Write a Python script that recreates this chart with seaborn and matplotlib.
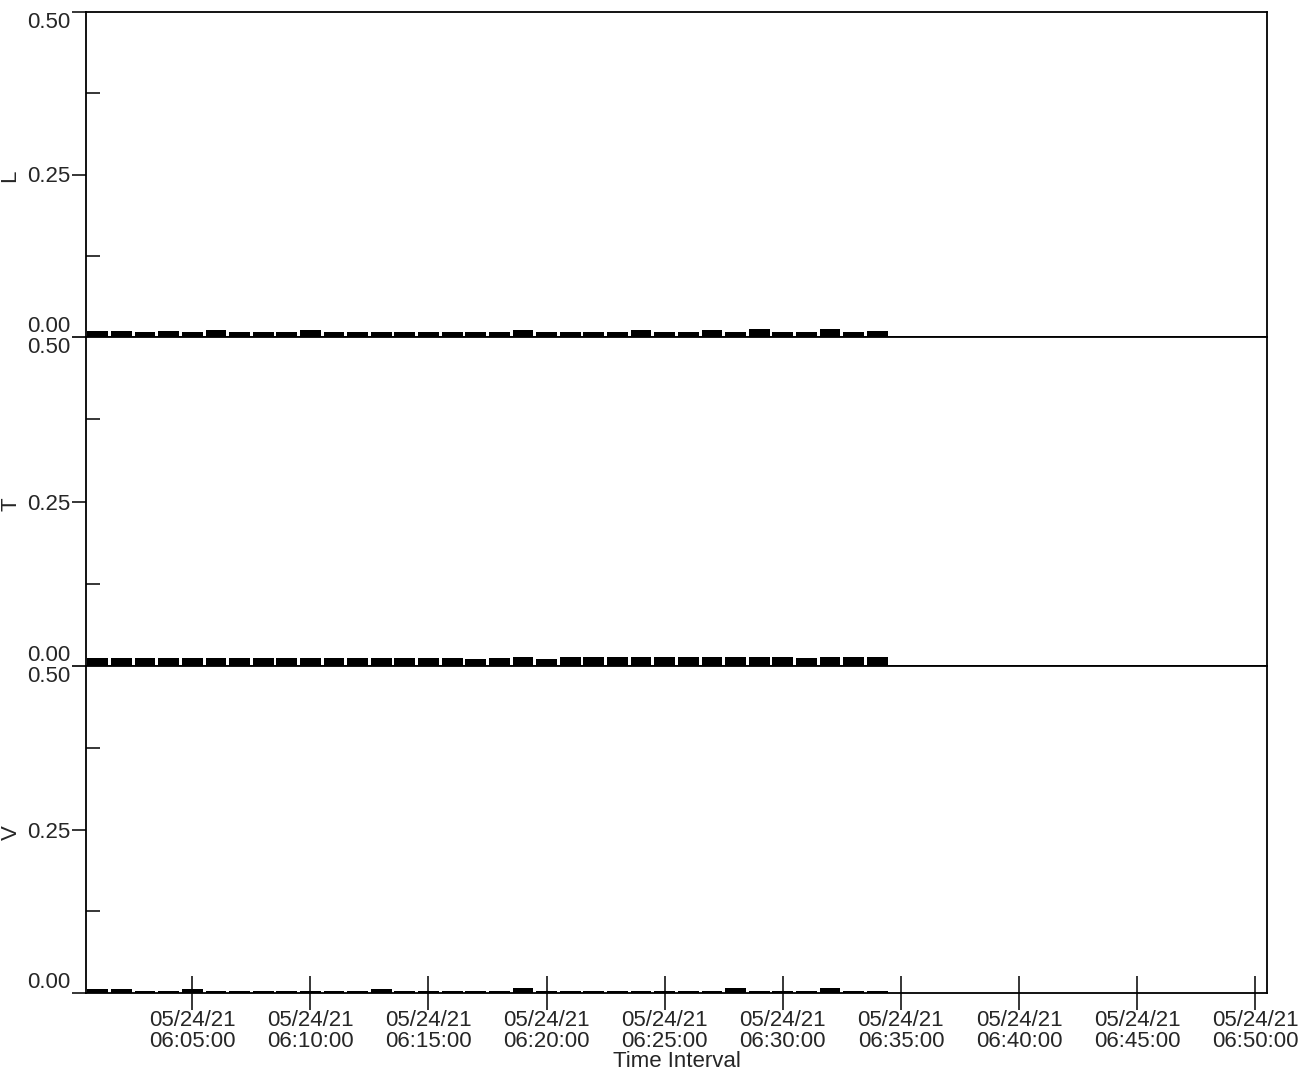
import numpy as np
import pandas as pd
import matplotlib
matplotlib.use("Agg")
import matplotlib.pyplot as plt
import seaborn as sns

# minutes after 06:00 on 05/24/21, one bar per minute
minutes = list(range(1, 35))

L_vals = [0.009, 0.010, 0.007, 0.010, 0.008, 0.011, 0.008, 0.008, 0.008, 0.011,
          0.008, 0.008, 0.008, 0.008, 0.008, 0.008, 0.008, 0.008, 0.011, 0.008,
          0.008, 0.008, 0.008, 0.011, 0.008, 0.008, 0.011, 0.008, 0.012, 0.008,
          0.008, 0.012, 0.008, 0.009]
T_vals = [0.012, 0.012, 0.012, 0.012, 0.012, 0.012, 0.012, 0.012, 0.012, 0.012,
          0.012, 0.012, 0.012, 0.012, 0.012, 0.012, 0.010, 0.012, 0.013, 0.010,
          0.013, 0.013, 0.013, 0.013, 0.013, 0.013, 0.013, 0.013, 0.013, 0.013,
          0.012, 0.014, 0.014, 0.013]
V_vals = [0.0065, 0.0065, 0.0035, 0.0035, 0.0065, 0.0035, 0.0035, 0.0035, 0.0035, 0.0035,
          0.0035, 0.0035, 0.0065, 0.0035, 0.0035, 0.0035, 0.0035, 0.0035, 0.008, 0.0035,
          0.0035, 0.0035, 0.0035, 0.0035, 0.0035, 0.0035, 0.0035, 0.008, 0.0035, 0.0035,
          0.0035, 0.008, 0.0035, 0.0035]

panel_names = ["L", "T", "V"]
y_ticks = [0.0, 0.25, 0.5]
y_tick_labels = ["0.00", "0.25", "0.50"]
x_ticks = [5, 10, 15, 20, 25, 30, 35, 40, 45, 50]
x_tick_labels = ["05/24/21\n06:%02d:00" % m for m in x_ticks]

sns.set_style("ticks")
plt.rcParams["font.family"] = ["Liberation Sans", "DejaVu Sans"]
plt.rcParams["font.size"] = 16

fig = plt.figure(figsize=(13, 10.7), dpi=100)
left, width = 86 / 1300, (1267 - 86) / 1300
panel_px = [(12, 337), (337, 666), (666, 993)]

df = pd.DataFrame({"minute": minutes, "L": L_vals, "T": T_vals, "V": V_vals})

axes = []
for (top, bot), name in zip(panel_px, panel_names):
    ax = fig.add_axes([left, 1 - bot / 1070, width, (bot - top) / 1070])
    sns.barplot(data=df, x="minute", y=name, native_scale=True, width=0.88,
                color="black", linewidth=0, errorbar=None, ax=ax)
    ax.set_xlim(0.5, 50.5)
    ax.set_ylim(0, 0.5)
    for s in ax.spines.values():
        s.set_color("black")
        s.set_linewidth(1.3)
    ax.set_yticks(y_ticks)
    ax.set_yticklabels(y_tick_labels)
    ax.set_yticks([0.125, 0.375], minor=True)
    ax.tick_params(axis="y", which="major", direction="out", length=10, width=1.3,
                   labelsize=16, pad=1)
    ax.tick_params(axis="y", which="minor", direction="in", length=10, width=1.3)
    labs = ax.get_yticklabels()
    labs[0].set_verticalalignment("bottom")
    labs[2].set_verticalalignment("top")
    ax.set_ylabel(name + " ", fontsize=16, labelpad=4)
    ax.set_xlabel("")
    axes.append(ax)

for ax in axes[:2]:
    ax.set_xticks([])

ax = axes[2]
ax.set_xticks(x_ticks)
ax.set_xticklabels(x_tick_labels, linespacing=1.05)
ax.tick_params(axis="x", direction="inout", length=24, width=1.3, labelsize=16, pad=0)
ax.set_xlabel("Time Interval", fontsize=16, labelpad=-1)

fig.savefig("out.png", dpi=100)
